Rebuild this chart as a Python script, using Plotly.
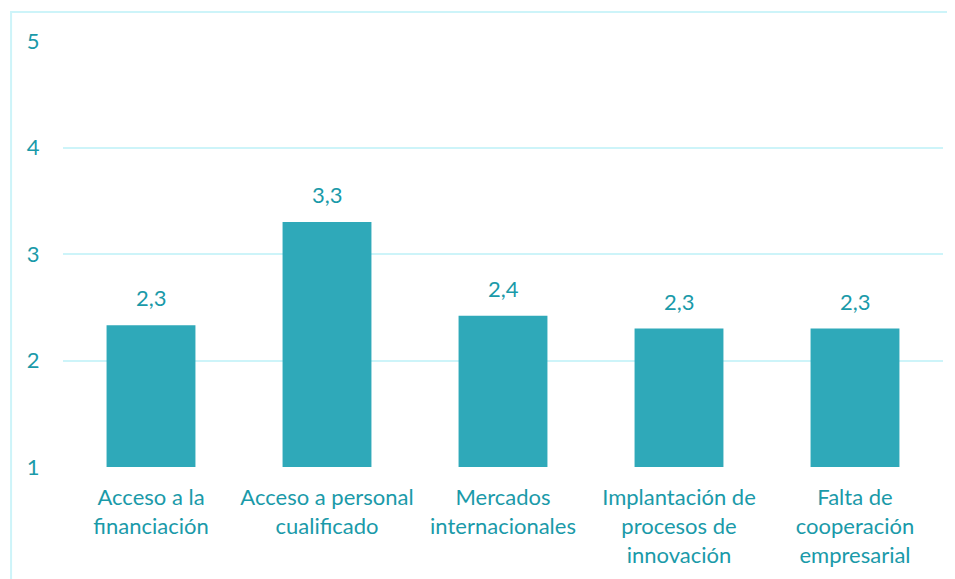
import plotly.graph_objects as go

# Datos
categorias = [
    "Acceso a la<br>financiación",
    "Acceso a personal<br>cualificado",
    "Mercados<br>internacionales",
    "Implantación de<br>procesos de<br>innovación",
    "Falta de<br>cooperación<br>empresarial",
]
valores = [2.33, 3.3, 2.42, 2.3, 2.3]
ticks_y = [1, 2, 3, 4, 5]

teal_text = "#1a9aa9"
grid = "#cdf4f9"
font_family = "Lato, 'Open Sans', sans-serif"

fig = go.Figure()

fig.add_trace(
    go.Bar(
        x=categorias,
        y=[v - 1 for v in valores],
        base=1,
        marker=dict(color="#2fa9b9", line=dict(width=0)),
        hoverinfo="skip",
    )
)

# etiquetas de valor encima de cada barra
for cat, v in zip(categorias, valores):
    fig.add_annotation(
        x=cat,
        y=v,
        text=f"{v:.1f}".replace(".", ","),
        showarrow=False,
        yanchor="bottom",
        yshift=12,
        font=dict(size=22, color=teal_text, family=font_family),
    )

# marco exterior
fig.add_shape(
    type="rect",
    xref="paper",
    yref="paper",
    x0=-0.059,
    x1=1.03,
    y0=-0.3,
    y1=1.068,
    line=dict(color=grid, width=2),
    fillcolor="rgba(0,0,0,0)",
    layer="below",
)

fig.update_layout(
    width=947,
    height=571,
    margin=dict(l=55, r=12, t=33, b=112),
    plot_bgcolor="white",
    paper_bgcolor="white",
    showlegend=False,
    bargap=0.495,
    separators=",.",
    font=dict(family=font_family, size=22, color=teal_text),
)

fig.update_xaxes(
    showgrid=False,
    showline=False,
    ticks="outside",
    ticklen=11,
    tickcolor="rgba(0,0,0,0)",
    tickfont=dict(size=22, color=teal_text),
)

fig.update_yaxes(
    range=[1, 5],
    tickvals=ticks_y,
    showgrid=True,
    gridcolor=grid,
    gridwidth=2,
    zeroline=False,
    showline=False,
    ticks="outside",
    ticklen=18,
    tickcolor="rgba(0,0,0,0)",
    tickfont=dict(size=22, color=teal_text),
)

fig.write_html("out.html")
